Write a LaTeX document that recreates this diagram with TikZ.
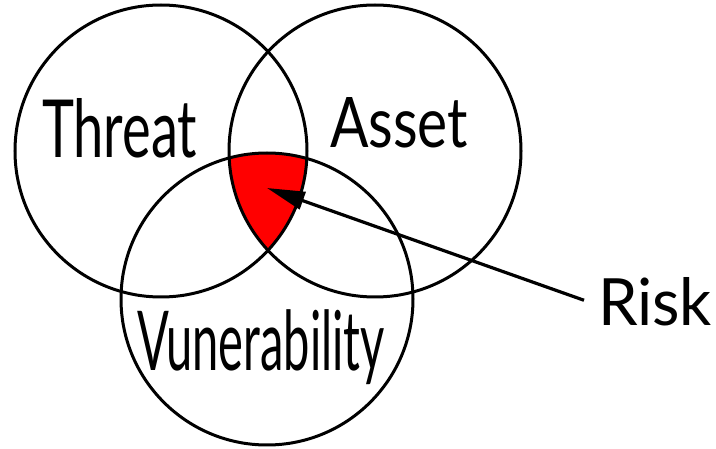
\documentclass[tikz,border=0pt]{standalone}
\usepackage{fontspec}
\setmainfont{Lato}
\usetikzlibrary{arrows.meta}
\begin{document}
\begin{tikzpicture}[x=1pt,y=-1pt,
  venn/.style={draw=black,line width=3pt},
  lbl/.style={inner sep=0pt,outer sep=0pt,anchor=north west,text=black},
  pointer/.style={draw=black,line width=3.2pt,-{Triangle[length=38pt,width=18pt]}}]
\useasboundingbox[fill=white] (0,0) rectangle (716,449);
\coordinate (tc) at (161,151);
\coordinate (ac) at (375,151);
\coordinate (vc) at (267,299);
\begin{scope}
  \clip (tc) circle[radius=146];
  \clip (ac) circle[radius=146];
  \fill[red] (vc) circle[radius=146];
\end{scope}
\draw[venn] (tc) circle[radius=146];
\draw[venn] (ac) circle[radius=146];
\draw[venn] (vc) circle[radius=146];
\node[lbl] (threat) at (42,98) {\resizebox{155pt}{59pt}{Threat}};
\node[lbl] (asset) at (330,97) {\resizebox{138pt}{50pt}{Asset}};
\node[lbl] (vuln) at (137,310) {\resizebox*{248pt}{75pt}{Vunerability}};
\node[lbl] (risk) at (598,277) {\resizebox{114pt}{48pt}{Risk}};
\coordinate (tip) at (267,188);
\draw[pointer] ([xshift=-14pt,yshift=1pt]risk.west) -- (tip);
\end{tikzpicture}
\end{document}
